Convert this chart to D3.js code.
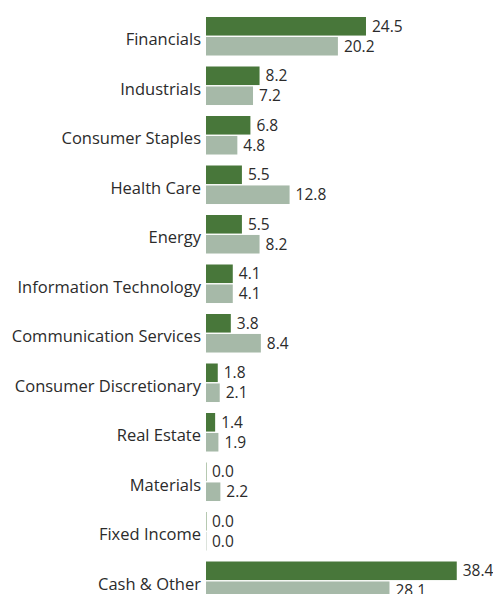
<!DOCTYPE html>
<html>
<head>
<meta charset="utf-8">
<script src="https://cdn.jsdelivr.net/npm/d3@7"></script>
<style>
  html, body { margin: 0; padding: 0; background: #fff; overflow: hidden; }
  svg { display: block; }
  text { font-family: "Open Sans", "Noto Sans", sans-serif; fill: #2b2b2b; }
</style>
</head>
<body>
<div id="chart"></div>
<script>
const categories = ["Financials", "Industrials", "Consumer Staples", "Health Care", "Energy",
  "Information Technology", "Communication Services", "Consumer Discretionary",
  "Real Estate", "Materials", "Fixed Income", "Cash & Other"];
const seriesNames = ["Fund", "Benchmark"];
const fundValues = [24.5, 8.2, 6.8, 5.5, 5.5, 4.1, 3.8, 1.8, 1.4, 0.0, 0.0, 38.4];
const benchmarkValues = [20.2, 7.2, 4.8, 12.8, 8.2, 4.1, 8.4, 2.1, 1.9, 2.2, 0.0, 28.1];
const colors = ["#48773a", "#a6b9a8"];

const W = 493, H = 594;
const svg = d3.select("#chart").append("svg").attr("width", W).attr("height", H);

const rows = categories.map((c, i) => ({ cat: c, vals: [fundValues[i], benchmarkValues[i]] }));

const step = 49.5, pad = 0.222;
const y = d3.scaleBand().domain(categories)
  .range([17, 17 + step * (categories.length - pad)]).paddingInner(pad).paddingOuter(0).align(0);
const ySub = d3.scaleBand().domain(seriesNames).range([0, y.bandwidth()]).paddingInner(0.07);
const x = d3.scaleLinear().domain([0, 40]).range([206, 206 + 40 * 6.53]);

const g = svg.selectAll("g.row").data(rows).join("g").attr("class", "row")
  .attr("transform", d => `translate(0,${y(d.cat)})`);

g.selectAll("rect").data(d => d.vals.map((v, j) => ({ v, s: seriesNames[j], j })))
  .join("rect")
  .attr("x", x(0))
  .attr("y", d => ySub(d.s))
  .attr("height", ySub.bandwidth())
  .attr("width", d => Math.max(0.4, x(d.v) - x(0)))
  .attr("fill", d => colors[d.j]);

g.selectAll("text.val").data(d => d.vals.map((v, j) => ({ v, s: seriesNames[j], j })))
  .join("text").attr("class", "val")
  .attr("x", d => x(d.v) + 6)
  .attr("y", d => ySub(d.s) + ySub.bandwidth() / 2)
  .attr("dy", "0.36em")
  .attr("font-size", 15.5)
  .text(d => d3.format(".1f")(d.v));

g.append("text")
  .attr("x", 201)
  .attr("y", y.bandwidth() / 2 + 3)
  .attr("dy", "0.36em")
  .attr("text-anchor", "end")
  .attr("font-size", 16.5)
  .text(d => d.cat);
</script>
</body>
</html>
